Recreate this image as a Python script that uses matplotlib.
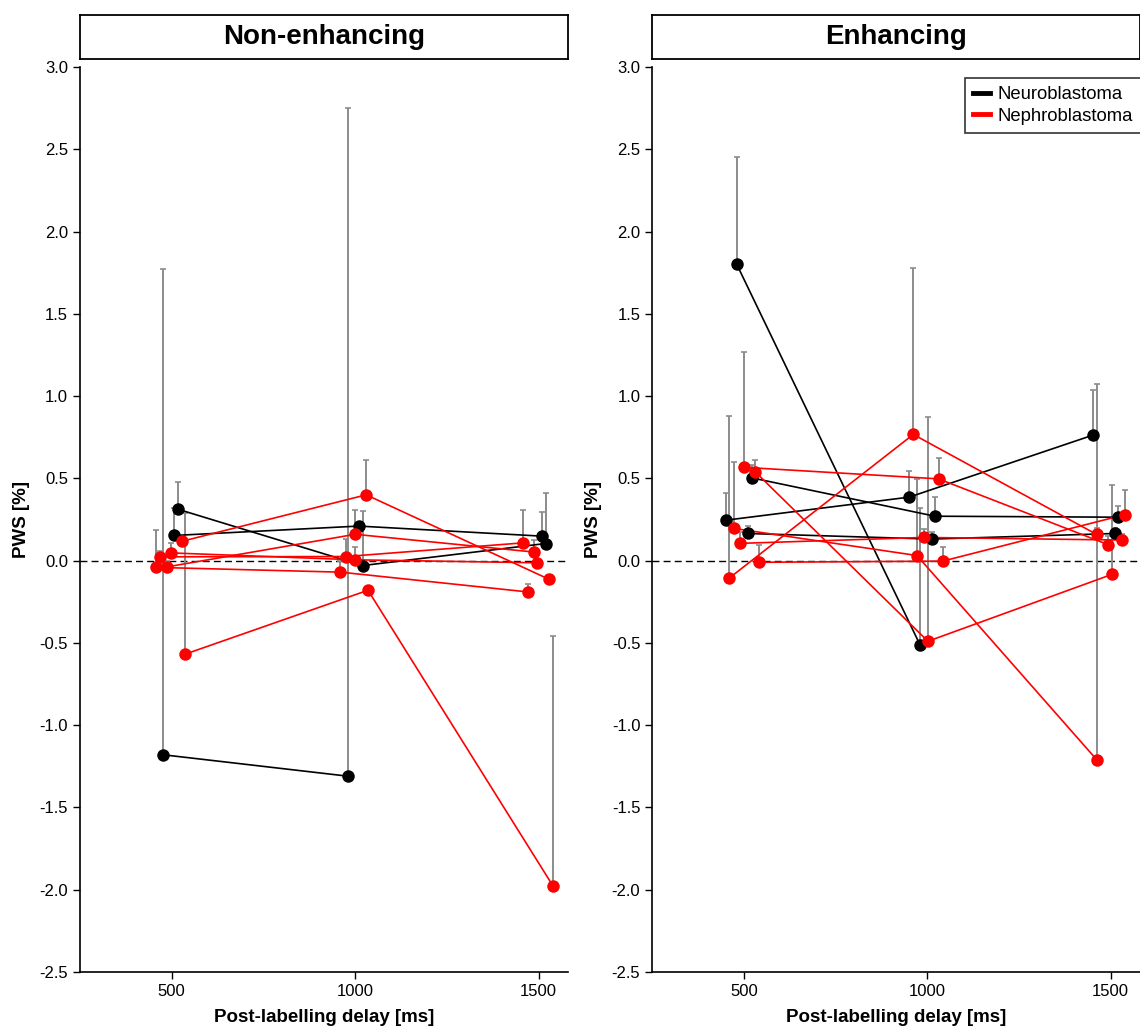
import numpy as np
import matplotlib
matplotlib.use("Agg")
import matplotlib.pyplot as plt
from matplotlib.lines import Line2D

plt.rcParams['font.family'] = ['Liberation Sans', 'DejaVu Sans']

# ---- Non-enhancing panel: one list per patient (delay, PWS, upper end of SD bar)
ne_black_x = [[477, 980], [516, 1020, 1519], [507, 1010, 1508]]
ne_black_y = [[-1.18, -1.31], [0.313, -0.03, 0.104], [0.153, 0.21, 0.149]]
ne_black_top = [[1.77, 2.75], [0.479, 0.30, 0.414], [0.32, 0.23, 0.297]]

ne_red_x = [[527, 1030, 1529], [537, 1035, 1540], [487, 1000, 1488],
            [497, 1000, 1497], [468, 975, 1458], [457, 960, 1470]]
ne_red_y = [[0.117, 0.40, -0.114], [-0.568, -0.18, -1.98], [-0.038, 0.16, 0.052],
            [0.047, 0.005, -0.013], [0.023, 0.025, 0.108], [-0.041, -0.07, -0.19]]
ne_red_top = [[0.15, 0.61, -0.09], [0.287, -0.16, -0.46], [0.0, 0.31, 0.125],
              [0.105, 0.08, 0.0], [0.06, 0.13, 0.307], [0.185, 0.0, -0.14]]

# ---- Enhancing panel
en_black_x = [[481, 980], [452, 951, 1452], [522, 1021, 1521], [511, 1012, 1512]]
en_black_y = [[1.80, -0.51], [0.246, 0.386, 0.763], [0.503, 0.27, 0.264], [0.165, 0.131, 0.165]]
en_black_top = [[2.455, 0.319], [0.412, 0.542, 1.037], [0.58, 0.384, 0.33], [0.21, 0.175, 0.2]]

en_red_x = [[461, 962, 1462], [501, 1031, 1492], [531, 1002, 1503],
            [472, 972, 1462], [491, 991, 1530], [541, 1042, 1540]]
en_red_y = [[-0.105, 0.767, 0.159], [0.567, 0.497, 0.098], [0.54, -0.49, -0.084],
            [0.196, 0.031, -1.21], [0.105, 0.141, 0.125], [-0.01, -0.003, 0.28]]
en_red_top = [[0.878, 1.78, 0.2], [1.266, 0.625, 0.15], [0.611, 0.874, 0.459],
              [0.597, 0.497, 1.071], [0.171, 0.19, 0.16], [0.098, 0.084, 0.43]]

titles = ["Non-enhancing", "Enhancing"]
xticks = [500, 1000, 1500]
yticks = [-2.5, -2.0, -1.5, -1.0, -0.5, 0.0, 0.5, 1.0, 1.5, 2.0, 2.5, 3.0]

fig = plt.figure(figsize=(11.4, 10.28), dpi=100)

ax_left = [0.0702, 0.572]
ax_w = 0.428
ax_b, ax_h = 0.0545, 0.8803

panels = [
    (ne_black_x, ne_black_y, ne_black_top, ne_red_x, ne_red_y, ne_red_top),
    (en_black_x, en_black_y, en_black_top, en_red_x, en_red_y, en_red_top),
]


def draw_group(ax, xs, ys, tops, color):
    for x, y, t in zip(xs, ys, tops):
        x = np.array(x)
        y = np.array(y)
        err = np.array(t) - y
        ax.errorbar(x, y, yerr=[np.zeros_like(err), err], fmt='none',
                    ecolor='#8c8c8c', elinewidth=1.4, capsize=2.2, capthick=1.2, zorder=1)
        ax.plot(x, y, '-', color=color, lw=1.2, zorder=2)
        ax.plot(x, y, 'o', color=color, ms=9, mec='none', zorder=3)


for i, (bx, by, bt, rx, ry, rt) in enumerate(panels):
    ax = fig.add_axes([ax_left[i], ax_b, ax_w, ax_h])
    draw_group(ax, bx, by, bt, 'black')
    draw_group(ax, rx, ry, rt, '#ff0000')
    ax.axhline(0, color='black', ls=(0, (5, 3)), lw=1.0, zorder=0)

    ax.set_xlim(250, 1580)
    ax.set_ylim(-2.5, 3.0)
    ax.set_xticks(xticks)
    ax.set_yticks(yticks)
    ax.set_yticklabels(["%.1f" % v for v in yticks])
    ax.tick_params(direction='out', length=5, width=1, labelsize=12)
    ax.spines['top'].set_visible(False)
    ax.spines['right'].set_visible(False)
    ax.spines['left'].set_linewidth(1.2)
    ax.spines['bottom'].set_linewidth(1.2)
    ax.set_xlabel("Post-labelling delay [ms]", fontsize=13.5, fontweight='bold', labelpad=7)
    ax.set_ylabel("PWS [%]", fontsize=13.5, fontweight='bold', labelpad=7)

    # title box above each panel
    tax = fig.add_axes([ax_left[i], 0.9426, ax_w, 0.0428])
    tax.set_xticks([])
    tax.set_yticks([])
    for s in tax.spines.values():
        s.set_linewidth(1.3)
    tax.text(0.5, 0.5, titles[i], ha='center', va='center',
             fontsize=20, fontweight='bold', transform=tax.transAxes)

    if i == 1:
        handles = [Line2D([], [], color='black', lw=3.5),
                   Line2D([], [], color='#ff0000', lw=3.5)]
        leg = ax.legend(handles, ["Neuroblastoma", "Nephroblastoma"],
                        loc='upper left', bbox_to_anchor=(0.641, 0.988),
                        borderaxespad=0, fontsize=13.3, frameon=True, fancybox=False,
                        handlelength=0.9, handletextpad=0.4, borderpad=0.45,
                        labelspacing=0.25)
        leg.get_frame().set_edgecolor('black')
        leg.get_frame().set_linewidth(1.2)

fig.savefig("out.png", dpi=100)
